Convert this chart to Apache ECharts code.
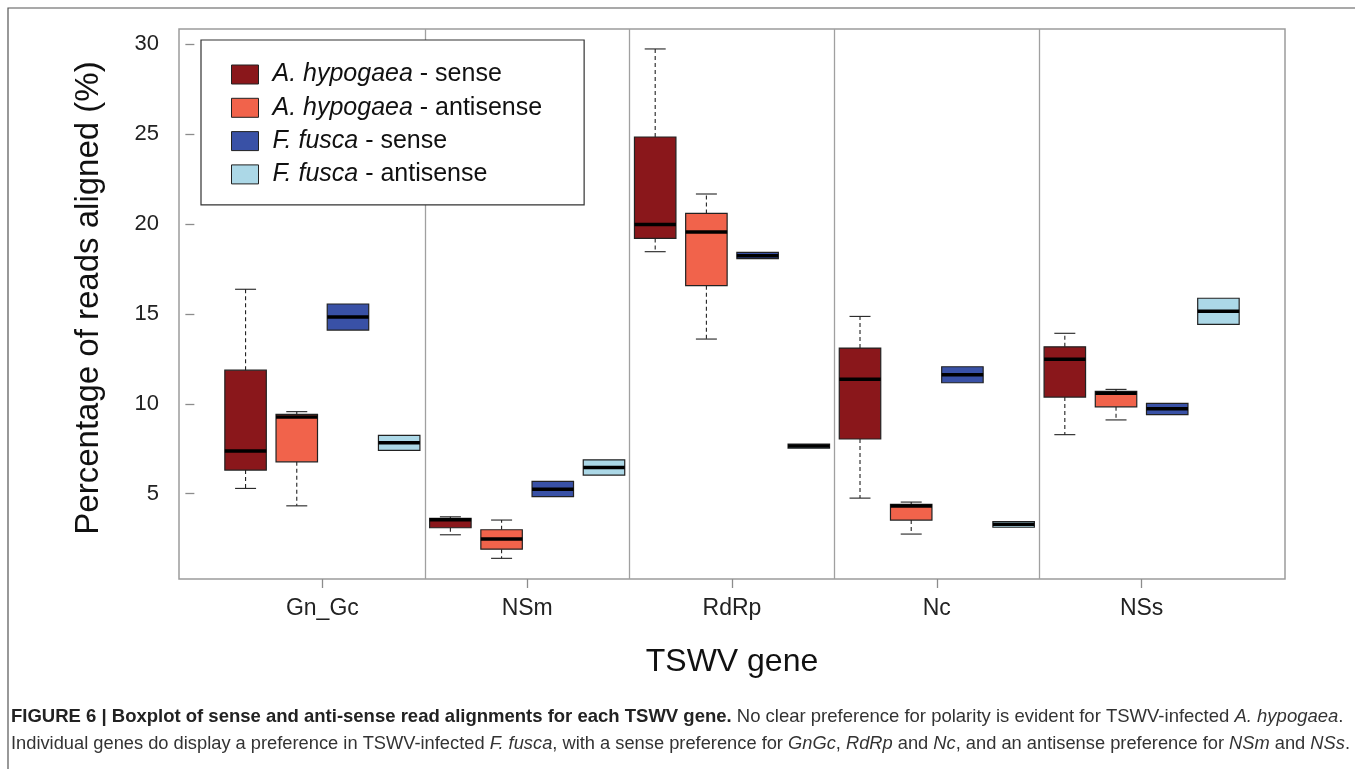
<!DOCTYPE html>
<html>
<head>
<meta charset="utf-8">
<script src="https://cdn.jsdelivr.net/npm/echarts@6/dist/echarts.min.js"></script>
<style>
html,body{margin:0;padding:0;background:#fff;}
#chart{width:1355px;height:769px;}
</style>
</head>
<body>
<div id="chart"></div>
<script>
// ---- data ----
const categories = ['Gn_Gc', 'NSm', 'RdRp', 'Nc', 'NSs'];
const seriesNames = ['A. hypogaea - sense', 'A. hypogaea - antisense', 'F. fusca - sense', 'F. fusca - antisense'];
// each item: [min, Q1, median, Q3, max] per gene
const hypSense = [[5.29, 6.31, 7.37, 11.87, 16.37], [2.71, 3.10, 3.55, 3.62, 3.71], [18.46, 19.20, 19.98, 24.84, 29.74], [4.75, 8.04, 11.36, 13.10, 14.86], [8.28, 10.37, 12.47, 13.17, 13.92]];
const hypAnti = [[4.32, 6.77, 9.26, 9.41, 9.56], [1.40, 1.91, 2.47, 2.99, 3.53], [13.60, 16.57, 19.55, 20.59, 21.67], [2.75, 3.53, 4.31, 4.40, 4.53], [9.10, 9.83, 10.58, 10.69, 10.80]];
const fusSense = [[14.10, 14.10, 14.82, 15.55, 15.55], [4.83, 4.83, 5.25, 5.68, 5.68], [18.08, 18.08, 18.24, 18.42, 18.42], [11.17, 11.17, 11.61, 12.06, 12.06], [9.39, 9.39, 9.72, 10.02, 10.02]];
const fusAnti = [[7.41, 7.41, 7.83, 8.24, 8.24], [6.03, 6.03, 6.46, 6.88, 6.88], [7.53, 7.53, 7.65, 7.75, 7.75], [3.13, 3.13, 3.30, 3.45, 3.45], [14.42, 14.42, 15.14, 15.87, 15.87]];
const yTicks = [5, 10, 15, 20, 25, 30];

const colors = ['#8a171b', '#f1634b', '#3951a6', '#acd8e7'];
const allSeries = [hypSense, hypAnti, fusSense, fusAnti];
const nPer = allSeries.length;
const catCenters = categories.map((c, i) => i * nPer + (nPer + 1) / 2);
const separators = categories.slice(1).map((c, i) => (i + 1) * nPer + 0.5);

function renderBox(params, api) {
  const pos = api.value(0);
  const mn = api.value(1), q1 = api.value(2), md = api.value(3), q3 = api.value(4), mx = api.value(5);
  const hw = 0.405, cw = 0.205;
  const tl = api.coord([pos - hw, q3]);
  const br = api.coord([pos + hw, q1]);
  const ml = api.coord([pos - hw, md]);
  const mr = api.coord([pos + hw, md]);
  const children = [];
  const wStyle = {stroke: '#222', lineWidth: 1.1, lineDash: [4, 3]};
  const cStyle = {stroke: '#222', lineWidth: 1.1};
  if (mx > q3) {
    const a = api.coord([pos, q3]), b = api.coord([pos, mx]);
    const c1 = api.coord([pos - cw, mx]), c2 = api.coord([pos + cw, mx]);
    children.push({type: 'line', shape: {x1: a[0], y1: a[1], x2: b[0], y2: b[1]}, style: wStyle});
    children.push({type: 'line', shape: {x1: c1[0], y1: c1[1], x2: c2[0], y2: c2[1]}, style: cStyle});
  }
  if (mn < q1) {
    const a = api.coord([pos, q1]), b = api.coord([pos, mn]);
    const c1 = api.coord([pos - cw, mn]), c2 = api.coord([pos + cw, mn]);
    children.push({type: 'line', shape: {x1: a[0], y1: a[1], x2: b[0], y2: b[1]}, style: wStyle});
    children.push({type: 'line', shape: {x1: c1[0], y1: c1[1], x2: c2[0], y2: c2[1]}, style: cStyle});
  }
  children.push({type: 'rect', shape: {x: tl[0], y: tl[1], width: br[0] - tl[0], height: br[1] - tl[1]},
    style: {fill: api.visual('color'), stroke: '#222', lineWidth: 1.2}});
  children.push({type: 'line', shape: {x1: ml[0], y1: ml[1], x2: mr[0], y2: mr[1]}, style: {stroke: '#000', lineWidth: 3.5}});
  return {type: 'group', children: children};
}

const series = allSeries.map((arr, s) => ({
  name: seriesNames[s],
  type: 'custom',
  renderItem: renderBox,
  itemStyle: {color: colors[s], borderColor: '#222', borderWidth: 1},
  encode: {x: 0, y: [1, 2, 3, 4, 5]},
  data: arr.map((v, g) => [g * nPer + s + 1].concat(v)),
  z: 3
}));
series.push({
  type: 'line',
  data: [],
  silent: true,
  z: 1,
  markLine: {
    symbol: 'none',
    silent: true,
    label: {show: false},
    lineStyle: {color: '#a0a0a0', width: 1.3, type: 'solid'},
    data: separators.map(x => ({xAxis: x}))
  }
});

const chart = echarts.init(document.getElementById('chart'), null, {renderer: 'canvas'});
const font = 'Liberation Sans, Arial, Helvetica, sans-serif';
chart.setOption({
  backgroundColor: '#fff',
  animation: false,
  grid: {left: 179, top: 29, width: 1106, height: 550, show: true, borderColor: '#9c9c9c', borderWidth: 1.5, backgroundColor: 'transparent'},
  xAxis: {
    type: 'value', min: -0.3, max: 21.3,
    name: 'TSWV gene', nameLocation: 'middle', nameGap: 67,
    nameTextStyle: {fontFamily: font, fontSize: 32, color: '#111'},
    axisLine: {show: false},
    splitLine: {show: false},
    axisTick: {show: true, length: 9, lineStyle: {color: '#8c8c8c', width: 1.3}, customValues: catCenters},
    axisLabel: {customValues: catCenters, margin: 18, fontFamily: font, fontSize: 23, color: '#222',
      formatter: v => categories[Math.round((v - (nPer + 1) / 2) / nPer)]}
  },
  yAxis: {
    type: 'value', min: 0.25, max: 30.85,
    name: 'Percentage of reads aligned (%)', nameLocation: 'middle', nameRotate: 90, nameGap: 74,
    nameTextStyle: {fontFamily: font, fontSize: 33, color: '#111', padding: [0, 0, 0, 12]},
    axisLine: {show: false},
    splitLine: {show: false},
    axisTick: {show: true, length: 9, lineStyle: {color: '#8c8c8c', width: 1.3}, customValues: yTicks},
    axisLabel: {customValues: yTicks, margin: 20, fontFamily: font, fontSize: 22, color: '#222'}
  },
  legend: {
    left: 201, top: 40, orient: 'vertical',
    zlevel: 1, z: 10,
    backgroundColor: '#fff', borderColor: '#333', borderWidth: 1.2,
    padding: [22, 42, 18, 30],
    itemWidth: 27, itemHeight: 19, itemGap: 8.3,
    icon: 'rect',
    itemStyle: {borderColor: '#222', borderWidth: 1},
    data: seriesNames,
    formatter: name => {
      const p = name.split(' - ');
      return '{i|' + p[0] + '}{n| - ' + p[1] + '}';
    },
    textStyle: {
      padding: [0, 0, 0, 9],
      rich: {
        i: {fontFamily: font, fontSize: 25, fontStyle: 'italic', color: '#111'},
        n: {fontFamily: font, fontSize: 25, color: '#111'}
      }
    }
  },
  graphic: [
    {type: 'rect', shape: {x: 8, y: 8, width: 1360, height: 800}, style: {fill: 'none', stroke: '#555', lineWidth: 1.2}, silent: true, z: -1},
    {type: 'text', left: 11, top: 707, style: {
      text: '{b|FIGURE 6 | Boxplot of sense and anti-sense read alignments for each TSWV gene.}{n| No clear preference for polarity is evident for TSWV-infected }{i|A. hypogaea}{n|.}',
      rich: {
        b: {fontFamily: font, fontSize: 18.5, fontWeight: 'bold', fill: '#222'},
        n: {fontFamily: font, fontSize: 18.5, fill: '#333'},
        i: {fontFamily: font, fontSize: 18.5, fontStyle: 'italic', fill: '#333'}
      }}},
    {type: 'text', left: 11, top: 735, style: {
      text: '{n|Individual genes do display a preference in TSWV-infected }{i|F. fusca}{n|, with a sense preference for }{i|GnGc}{n|, }{i|RdRp}{n| and }{i|Nc}{n|, and an antisense preference for }{i|NSm}{n| and }{i|NSs}{n|.}',
      rich: {
        n: {fontFamily: font, fontSize: 18.3, fill: '#333'},
        i: {fontFamily: font, fontSize: 18.3, fontStyle: 'italic', fill: '#333'}
      }}}
  ],
  series: series
});
</script>
</body>
</html>
